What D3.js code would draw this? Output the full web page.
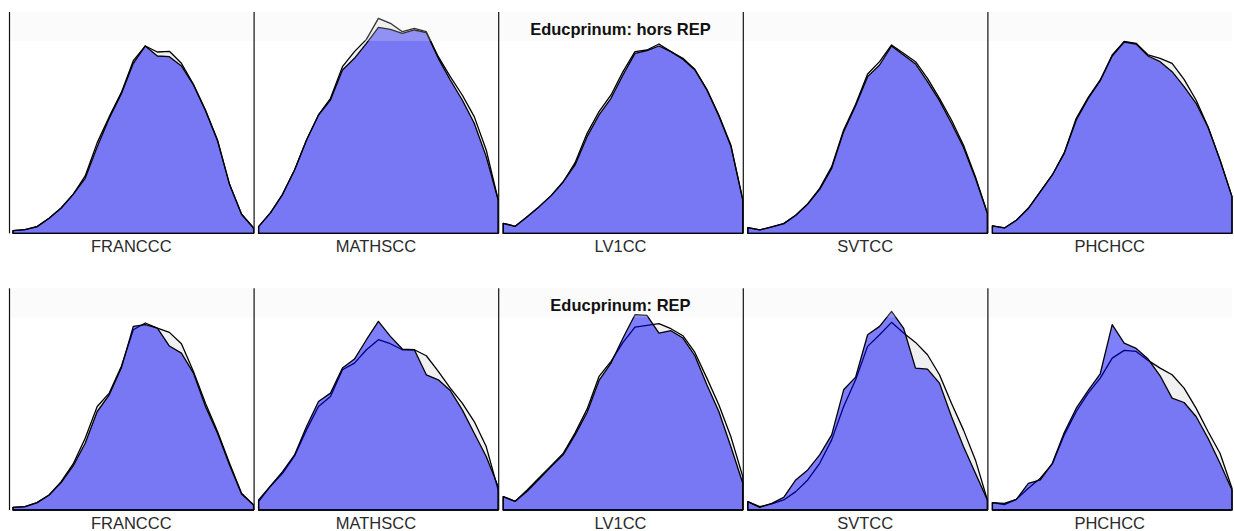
<!DOCTYPE html>
<html>
<head>
<meta charset="utf-8">
<script src="https://cdn.jsdelivr.net/npm/d3@7"></script>
<style>
  html, body { margin: 0; padding: 0; background: #ffffff; }
  svg { display: block; }
</style>
</head>
<body>
<svg id="chart" width="1234" height="531"></svg>
<script>
// ---------- data ----------
const subjects = ["FRANCCC", "MATHSCC", "LV1CC", "SVTCC", "PHCHCC"];
const rowTitles = ["Educprinum: hors REP", "Educprinum: REP"];

// row 1 : all students (grey) vs "hors REP" (blue)
const allFRANCCC_1 = [8, 11, 20, 45, 76, 117, 172, 272, 350, 422, 518, 562, 544, 546, 510, 447, 370, 280, 147, 57, 16];
const subFRANCCC_1 = [8, 11, 20, 45, 76, 117, 165, 260, 345, 418, 510, 562, 532, 530, 502, 445, 368, 278, 147, 57, 16];
const allMATHSCC_1 = [20, 62, 117, 190, 280, 355, 405, 500, 545, 582, 645, 630, 605, 615, 605, 530, 470, 415, 350, 250, 100];
const subMATHSCC_1 = [20, 62, 117, 190, 280, 355, 400, 490, 525, 570, 618, 612, 600, 610, 602, 525, 460, 400, 330, 230, 100];
const allLV1CC_1   = [30, 21, 50, 80, 113, 154, 212, 300, 365, 415, 485, 545, 550, 568, 545, 525, 492, 432, 355, 265, 100];
const subLV1CC_1   = [30, 21, 50, 80, 113, 154, 205, 290, 355, 405, 475, 540, 548, 562, 545, 522, 490, 430, 352, 262, 100];
const allSVTCC_1   = [17, 10, 19, 29, 54, 88, 135, 200, 310, 387, 478, 515, 565, 540, 515, 465, 405, 340, 265, 170, 60];
const subSVTCC_1   = [17, 10, 19, 29, 54, 88, 132, 195, 305, 383, 470, 505, 562, 535, 508, 455, 398, 330, 258, 165, 60];
const allPHCHCC_1  = [22, 16, 39, 75, 125, 175, 242, 345, 408, 460, 535, 576, 570, 535, 525, 510, 462, 400, 320, 220, 110];
const subPHCHCC_1  = [22, 16, 39, 75, 125, 175, 240, 340, 405, 458, 532, 574, 568, 532, 515, 485, 440, 390, 318, 220, 110];

// row 2 : all students (grey) vs "REP" (blue)
const allFRANCCC_2 = [8, 10, 22, 45, 85, 138, 215, 310, 350, 430, 540, 560, 545, 532, 498, 415, 320, 235, 140, 50, 15];
const subFRANCCC_2 = [8, 10, 22, 45, 82, 132, 200, 295, 345, 425, 550, 555, 545, 491, 470, 410, 310, 230, 135, 48, 15];
const allMATHSCC_2 = [25, 72, 110, 162, 240, 310, 340, 420, 440, 480, 510, 498, 480, 480, 462, 415, 365, 320, 265, 190, 60];
const subMATHSCC_2 = [30, 72, 115, 165, 250, 325, 350, 425, 452, 510, 565, 520, 482, 480, 405, 390, 358, 300, 230, 160, 70];
const allLV1CC_2   = [40, 26, 60, 97, 133, 169, 231, 302, 400, 445, 502, 548, 553, 558, 543, 522, 472, 395, 315, 220, 100];
const subLV1CC_2   = [40, 26, 56, 93, 130, 165, 225, 292, 388, 440, 515, 585, 583, 530, 537, 515, 462, 375, 295, 190, 80];
const allSVTCC_2   = [25, 10, 18, 30, 55, 90, 140, 210, 310, 390, 490, 525, 562, 530, 502, 465, 405, 320, 240, 150, 30];
const subSVTCC_2   = [25, 8, 20, 38, 90, 120, 165, 225, 360, 398, 525, 550, 595, 545, 425, 422, 380, 280, 190, 110, 30];
const allPHCHCC_2  = [22, 16, 32, 65, 95, 138, 225, 295, 350, 395, 455, 478, 475, 448, 425, 405, 365, 305, 235, 170, 65];
const subPHCHCC_2  = [22, 20, 32, 80, 90, 140, 232, 305, 358, 408, 555, 500, 484, 452, 402, 335, 322, 280, 215, 140, 60];

const rowsData = [
  { all: [allFRANCCC_1, allMATHSCC_1, allLV1CC_1, allSVTCC_1, allPHCHCC_1],
    sub: [subFRANCCC_1, subMATHSCC_1, subLV1CC_1, subSVTCC_1, subPHCHCC_1] },
  { all: [allFRANCCC_2, allMATHSCC_2, allLV1CC_2, allSVTCC_2, allPHCHCC_2],
    sub: [subFRANCCC_2, subMATHSCC_2, subLV1CC_2, subSVTCC_2, subPHCHCC_2] }
];

// ---------- layout ----------
const svg = d3.select("#chart");
const plotLeft = 9, plotRight = 1232;
const rowTops = [12, 288.3];
const rowBottoms = [233.3, 510];
const stripH = 29;

const panelX = d3.scaleBand().domain(subjects).range([plotLeft, plotRight]).paddingInner(0).paddingOuter(0);
const yMax = 664;

rowsData.forEach((row, r) => {
  const top = rowTops[r], bottom = rowBottoms[r];
  const y = d3.scaleLinear().domain([0, yMax]).range([bottom, top]);
  const g = svg.append("g");

  subjects.forEach((s, i) => {
    const x0 = panelX(s);
    const x = d3.scaleLinear().domain([0, 20]).range([x0 + (i === 0 ? 4 : 5), x0 + panelX.bandwidth()]);
    const area = d3.area().x((d, k) => x(k)).y0(bottom).y1(d => y(d)).curve(d3.curveLinear);
    const clipId = `clip-${r}-${i}`;
    svg.append("clipPath").attr("id", clipId)
      .append("rect").attr("x", x0).attr("y", top - 10)
      .attr("width", panelX.bandwidth() + 1).attr("height", bottom - top + 12);

    const pg = g.append("g").attr("clip-path", `url(#${clipId})`);
    pg.append("path").datum(row.all[i])
      .attr("d", d => area(d) + "Z")
      .attr("fill", "#f0f0f0")
      .attr("stroke", "#000")
      .attr("stroke-width", 1.3)
      .attr("stroke-linejoin", "round");
    pg.append("path").datum(row.sub[i])
      .attr("d", d => area(d) + "Z")
      .attr("fill", "rgb(0,0,250)")
      .attr("fill-opacity", 0.5)
      .attr("stroke", "#000")
      .attr("stroke-width", 1.3)
      .attr("stroke-linejoin", "round");

    // subject label
    svg.append("text")
      .attr("x", x0 + panelX.bandwidth() / 2)
      .attr("y", r === 0 ? 252 : 529)
      .attr("text-anchor", "middle")
      .attr("font-family", "'Liberation Sans', Arial, sans-serif")
      .attr("font-size", 16.5)
      .attr("fill", "#2a2a2a")
      .text(s);
  });

  // title strip over the whole row
  svg.append("rect")
    .attr("x", plotLeft).attr("y", top)
    .attr("width", plotRight - plotLeft).attr("height", stripH)
    .attr("fill", "#eeeeee").attr("fill-opacity", 0.22);

  // panel separators
  subjects.forEach(s => {
    svg.append("line")
      .attr("x1", panelX(s) + 0.5).attr("x2", panelX(s) + 0.5)
      .attr("y1", top).attr("y2", bottom)
      .attr("stroke", "#111").attr("stroke-width", 1.2);
  });

  // row title over the middle panel
  svg.append("text")
    .attr("x", panelX(subjects[2]) + panelX.bandwidth() / 2)
    .attr("y", top + 22.5)
    .attr("text-anchor", "middle")
    .attr("font-family", "'Liberation Sans', Arial, sans-serif")
    .attr("font-weight", "bold")
    .attr("font-size", 16.5)
    .attr("fill", "#111")
    .text(rowTitles[r]);
});
</script>
</body>
</html>
